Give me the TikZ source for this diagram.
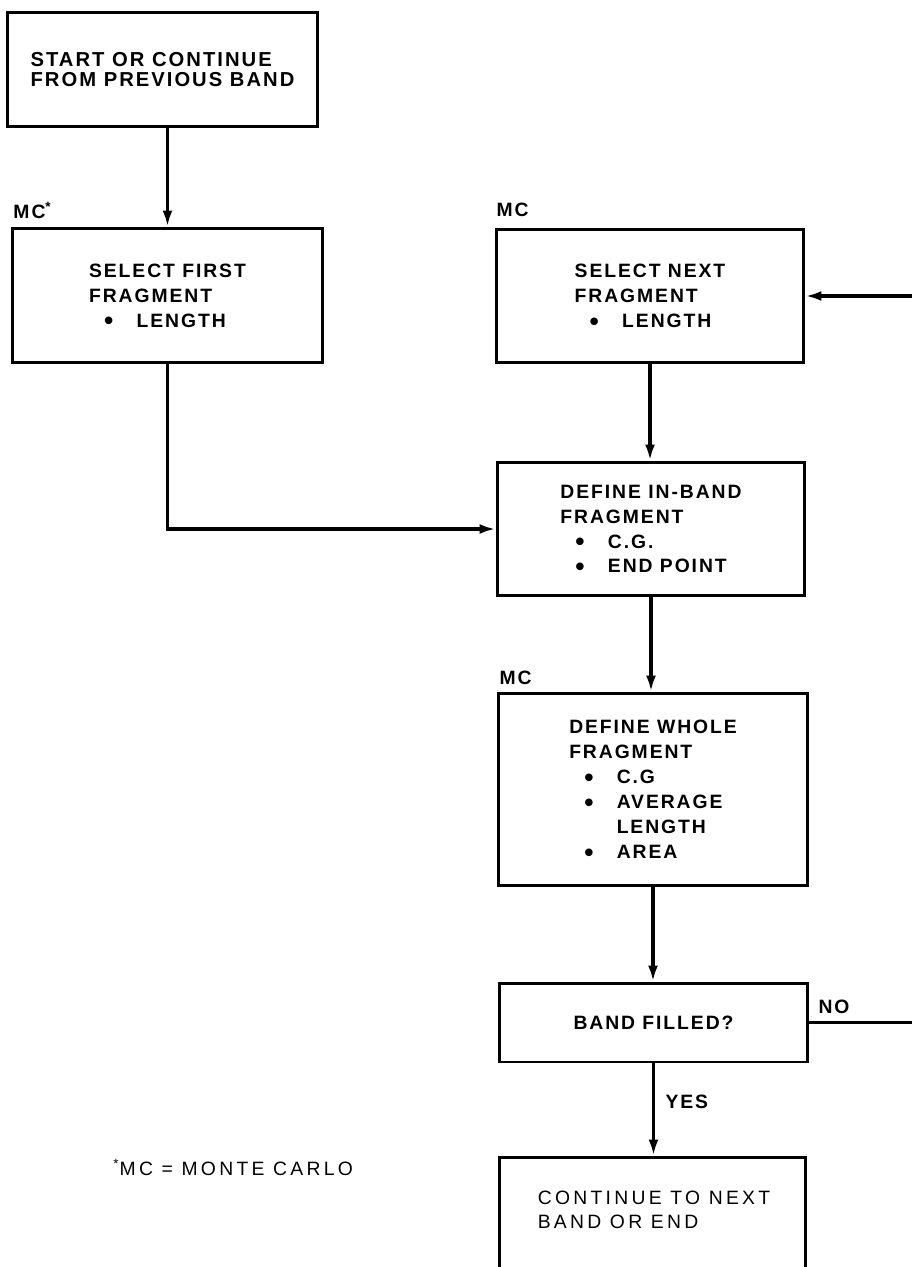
\documentclass[tikz,border=0pt]{standalone}
\usepackage{fontspec}
\setmainfont{Liberation Sans}
\newfontfamily\flowfont[LetterSpace=10]{Liberation Sans}
\newfontfamily\notefont[LetterSpace=17]{Liberation Sans}
\usetikzlibrary{arrows.meta,positioning,calc}
\newcommand{\bul}[1]{\hspace*{0.3cm}\makebox[0.65cm][l]{\smash{\raisebox{-1.6pt}{\fontsize{15}{11}\selectfont\textbullet}}}#1}

\begin{document}
\begin{tikzpicture}[x=0.02cm,y=-0.02cm,line width=1.7pt,
  box/.style={draw,inner sep=0pt,align=left,font=\flowfont\bfseries\fontsize{11}{14.2}\selectfont},
  arr/.style={line width=1.9pt,-{Latex[length=3.2mm,width=2mm]}},
  lbl/.style={anchor=west,inner sep=0pt,font=\flowfont\bfseries\fontsize{11}{13}\selectfont}]
  \useasboundingbox (0,0) rectangle (912,1267);
  \clip (0,0) rectangle (912,1267);
  % boxes
  \node[box,minimum width=6.22cm,minimum height=2.30cm,font=\flowfont\bfseries\fontsize{11.5}{11.8}\selectfont] (start) at (162.5,69.5)
    {START OR CONTINUE\\FROM PREVIOUS BAND};
  \node[box,minimum width=6.22cm,minimum height=2.70cm] (first) at (167.5,295.5)
    {SELECT FIRST\\FRAGMENT\\\bul{LENGTH}};
  \node[box,minimum width=6.16cm,minimum height=2.68cm] (next) at (650,296)
    {SELECT NEXT\\FRAGMENT\\\bul{LENGTH}};
  \node[box,minimum width=6.16cm,minimum height=2.68cm] (inband) at (651,529)
    {DEFINE IN-BAND\\FRAGMENT\\\bul{C.G.}\\\bul{END POINT}};
  \node[box,minimum width=6.20cm,minimum height=3.86cm] (whole) at (653,789.5)
    {DEFINE WHOLE\\FRAGMENT\\\bul{C.G}\\\bul{AVERAGE}\\\hspace*{0.95cm}LENGTH\\\bul{AREA}};
  \node[box,minimum width=6.18cm,minimum height=1.58cm] (filled) at (653.5,1022.5)
    {BAND FILLED?};
  \node[box,minimum width=6.14cm,minimum height=2.66cm] (cont) at (652.5,1223.5) {};
  \node[align=left,inner sep=0pt,font=\notefont\fontsize{11}{13.7}\selectfont] (conttxt) at (654,1210)
    {CONTINUE TO NEXT\\BAND OR END};
  % labels
  \node[lbl] (mcfirst) at (12,210) {MC\textsuperscript{*}};
  \node[lbl] (mcnext) at (495,210) {MC};
  \node[lbl] (mcwhole) at (498,678) {MC};
  \node[lbl] (nolbl) at (817,1007) {NO};
  \node[lbl] (yeslbl) at (664,1102) {YES};
  \node[lbl,font=\notefont\fontsize{11}{13}\selectfont] (note) at (112,1167)
    {\textsuperscript{*}MC = MONTE CARLO};
  % connectors
  \coordinate (loopin) at (912,296);
  \coordinate (loopout) at (912,1022.5);
  \draw[arr] (first.north |- start.south) -- (first.north);
  \draw[arr] (first.south) |- (inband.west);
  \draw[arr] (loopin) -- (next.east);
  \draw[arr] (next.south) -- (next.south |- inband.north);
  \draw[arr] (inband.south) -- (inband.south |- whole.north);
  \draw[arr] (whole.south) -- (whole.south |- filled.north);
  \draw[arr] (filled.south) -- (filled.south |- cont.north);
  \draw[line width=1.9pt] (filled.east) -- (loopout);
\end{tikzpicture}
\end{document}
